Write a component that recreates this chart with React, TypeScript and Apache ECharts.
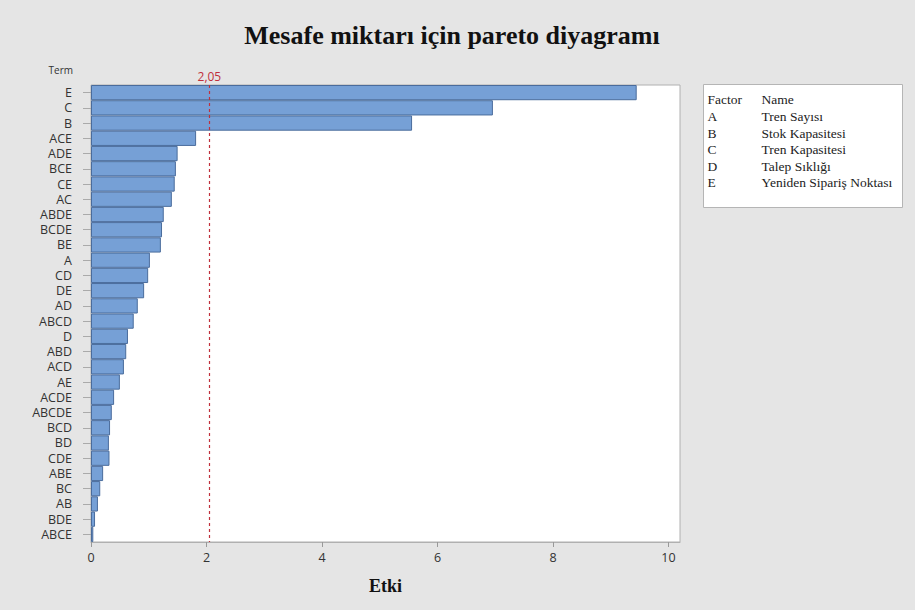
import React, { useEffect, useRef } from "react";
import * as echarts from "echarts";

const terms = [
  "E", "C", "B", "ACE", "ADE", "BCE", "CE", "AC", "ABDE", "BCDE", "BE", "A", "CD", "DE", "AD",
  "ABCD", "D", "ABD", "ACD", "AE", "ACDE", "ABCDE", "BCD", "BD", "CDE", "ABE", "BC", "AB", "BDE", "ABCE",
];
const effects = [
  9.45, 6.96, 5.56, 1.82, 1.5, 1.47, 1.45, 1.4, 1.26, 1.23, 1.21, 1.02, 0.99, 0.92, 0.81,
  0.74, 0.64, 0.61, 0.57, 0.5, 0.4, 0.36, 0.33, 0.31, 0.32, 0.21, 0.16, 0.12, 0.07, 0.04,
];
const xTicks = [0, 2, 4, 6, 8, 10];
const criticalValue = 2.05;
const factorCodes = ["A", "B", "C", "D", "E"];
const factorNames = ["Tren Sayısı", "Stok Kapasitesi", "Tren Kapasitesi", "Talep Sıklığı", "Yeniden Sipariş Noktası"];

export default function App() {
  const ref = useRef<HTMLDivElement>(null);
  useEffect(() => {
    if (!ref.current) return;
    const chart = echarts.init(ref.current, null, { renderer: "svg" });
    const serif = "'Liberation Serif', 'DejaVu Serif', serif";
    const sans = "'Open Sans', 'Noto Sans', sans-serif";
    const red = "#c0303c";
    const lf = `13.5px ${serif}`;
    const legendChildren: any[] = [
      {
        type: "rect",
        shape: { x: 0, y: 0, width: 199, height: 123 },
        style: { fill: "#ffffff", stroke: "#b5b5b5", lineWidth: 1 },
      },
      { type: "text", x: 4, y: 15, style: { text: "Factor", font: lf, fill: "#222", verticalAlign: "middle" } },
      { type: "text", x: 58, y: 15, style: { text: "Name", font: lf, fill: "#222", verticalAlign: "middle" } },
    ];
    factorCodes.forEach((c, i) => {
      legendChildren.push({ type: "text", x: 4, y: 32 + i * 16.5, style: { text: c, font: lf, fill: "#222", verticalAlign: "middle" } });
      legendChildren.push({ type: "text", x: 58, y: 32 + i * 16.5, style: { text: factorNames[i], font: lf, fill: "#222", verticalAlign: "middle" } });
    });
    chart.setOption({
      animation: false,
      backgroundColor: "#e5e5e5",
      title: {
        text: "Mesafe miktarı için pareto diyagramı",
        left: 447,
        textAlign: "center",
        top: 17,
        textStyle: { fontFamily: serif, fontWeight: "bold", fontSize: 26, color: "#111" },
      },
      grid: {
        left: 91, top: 85, right: 235, bottom: 68,
        show: true, backgroundColor: "#ffffff", borderColor: "#b0b0b0", borderWidth: 1,
      },
      xAxis: {
        type: "value",
        min: 0,
        max: 10.2,
        name: "Etki",
        nameLocation: "middle",
        nameGap: 35,
        nameTextStyle: { fontFamily: serif, fontWeight: "bold", fontSize: 18, color: "#111" },
        axisLine: { show: true, lineStyle: { color: "#b0b0b0" } },
        axisTick: { show: true, customValues: xTicks, length: 5, lineStyle: { color: "#999" } },
        axisLabel: { customValues: xTicks, fontFamily: sans, fontSize: 12.5, color: "#333", margin: 9 },
        splitLine: { show: false },
      },
      yAxis: {
        type: "category",
        data: terms,
        inverse: true,
        axisLine: { show: false },
        axisTick: { show: true, alignWithLabel: true, length: 8, lineStyle: { color: "#aaa" } },
        axisLabel: { fontFamily: sans, fontSize: 12.5, color: "#333", margin: 19, interval: 0 },
      },
      graphic: [
        { type: "text", right: 915 - 73, top: 65, style: { text: "Term", font: `10px ${sans}`, fill: "#333" } },
        { type: "group", left: 703, top: 84, children: legendChildren },
      ],
      series: [
        {
          type: "bar",
          data: effects,
          barCategoryGap: "0%",
          itemStyle: { color: "#76a0d6", borderColor: "#4a6c9c", borderWidth: 1 },
          markLine: {
            symbol: "none",
            silent: true,
            lineStyle: { color: red, type: [3, 3], width: 1.2, opacity: 1 },
            label: { show: true, position: "start", formatter: "2,05", color: red, fontFamily: sans, fontSize: 12, distance: 3 },
            data: [{ xAxis: criticalValue, lineStyle: { color: red } }],
          },
        },
      ],
    });
    return () => chart.dispose();
  }, []);
  return <div ref={ref} style={{ position: "fixed", left: 0, top: 0, width: 915, height: 610 }} />;
}
